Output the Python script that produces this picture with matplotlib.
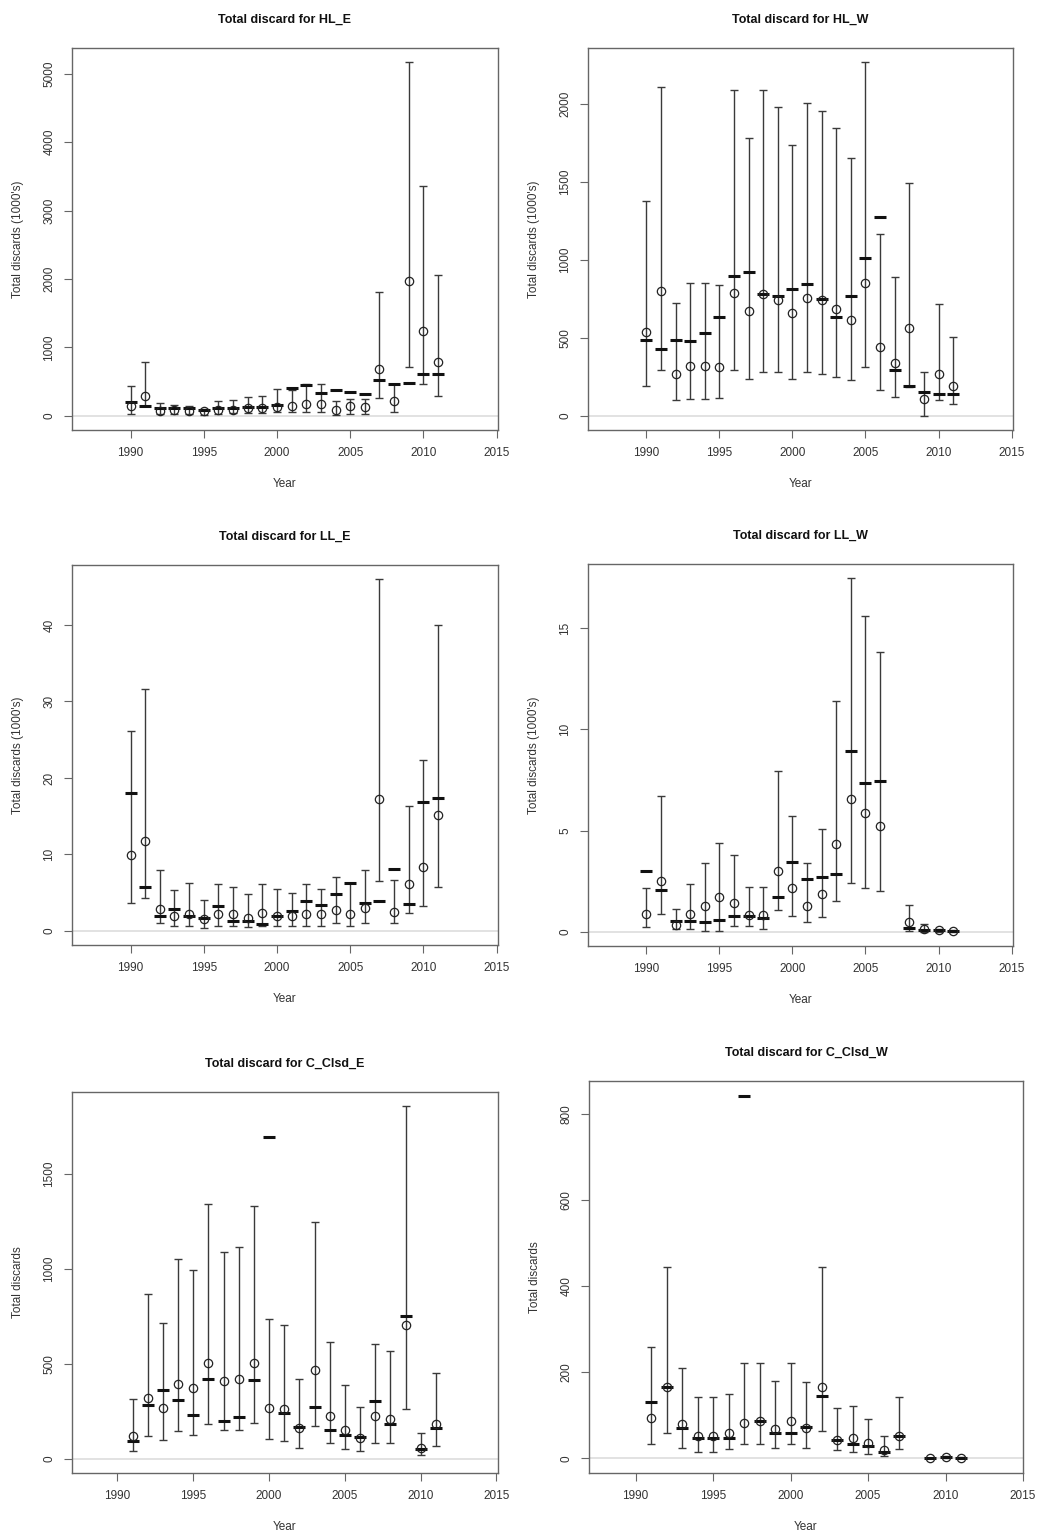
import numpy as np
import matplotlib
matplotlib.use("Agg")
import matplotlib.pyplot as plt

plt.rcParams['font.family'] = ['Liberation Sans', 'DejaVu Sans']

# ---- HL_E ----
hle_years = list(range(1990, 2012))
hle_est = [150, 290, 75, 80, 75, 65, 80, 80, 110, 110, 130, 145, 170, 180, 80, 145, 130, 680, 220, 1975, 1245, 790]
hle_alt = [205, 150, 110, 110, 120, 80, 110, 110, 130, 130, 160, 405, 455, 340, 375, 355, 315, 525, 465, 475, 610, 610]
hle_lo = [30, 150, 25, 25, 25, 15, 25, 35, 35, 35, 60, 50, 50, 60, 15, 25, 25, 255, 50, 710, 465, 285]
hle_hi = [440, 780, 195, 160, 145, 100, 220, 230, 270, 290, 390, 380, 460, 460, 220, 245, 245, 1805, 460, 5170, 3365, 2065]

# ---- HL_W ----
hlw_years = list(range(1990, 2012))
hlw_est = [535, 797, 271, 320, 320, 316, 786, 673, 780, 741, 656, 754, 741, 684, 615, 848, 438, 338, 560, 107, 271, 192]
hlw_alt = [485, 427, 485, 480, 530, 630, 893, 919, 780, 769, 812, 844, 748, 630, 769, 1011, 1271, 293, 192, 150, 139, 143]
hlw_lo = [192, 293, 100, 107, 107, 113, 293, 239, 284, 278, 235, 282, 271, 250, 229, 316, 165, 122, 186, 0, 100, 75]
hlw_hi = [1378, 2109, 722, 848, 848, 840, 2088, 1780, 2088, 1976, 1737, 2006, 1949, 1842, 1652, 2265, 1165, 891, 1489, 278, 716, 506]

# ---- LL_E ----
lle_years = list(range(1990, 2012))
lle_est = [9.9, 11.8, 2.9, 2.0, 2.25, 1.6, 2.25, 2.2, 1.7, 2.3, 1.9, 2.0, 2.25, 2.2, 2.7, 2.25, 3.0, 17.2, 2.5, 6.1, 8.4, 15.2]
lle_alt = [18.0, 5.8, 1.9, 2.9, 1.95, 1.7, 3.2, 1.3, 1.3, 0.85, 2.0, 2.6, 3.9, 3.4, 4.8, 6.3, 3.7, 3.9, 8.1, 3.55, 16.9, 17.4]
lle_lo = [3.6, 4.3, 1.1, 0.7, 0.7, 0.4, 0.7, 0.7, 0.55, 0.6, 0.6, 0.6, 0.7, 0.7, 1.0, 0.6, 1.0, 6.5, 1.0, 2.3, 3.2, 5.8]
lle_hi = [26.1, 31.6, 7.9, 5.3, 6.3, 4.1, 6.2, 5.8, 4.8, 6.2, 5.5, 5.0, 6.2, 5.5, 7.1, 6.3, 7.9, 46.0, 6.6, 16.3, 22.4, 40.0]

# ---- LL_W ----
llw_years = [1990, 1991, 1992, 1993, 1994, 1995, 1996, 1997, 1998, 1999, 2000, 2001, 2002, 2003, 2004, 2005, 2006, 2008, 2009, 2010, 2011]
llw_est = [0.86, 2.52, 0.33, 0.86, 1.27, 1.70, 1.40, 0.82, 0.82, 3.0, 2.17, 1.29, 1.89, 4.32, 6.56, 5.88, 5.22, 0.49, 0.16, 0.08, 0.03]
llw_alt = [3.0, 2.09, 0.53, 0.53, 0.48, 0.58, 0.77, 0.77, 0.66, 1.70, 3.46, 2.59, 2.72, 2.88, 8.95, 7.33, 7.45, 0.2, 0.08, 0.08, 0.03]
llw_lo = [0.25, 0.9, 0.16, 0.16, 0.05, 0.05, 0.3, 0.28, 0.16, 1.1, 0.77, 0.49, 0.71, 1.53, 2.42, 2.17, 2.0, 0.05, 0.01, 0.01, 0.0]
llw_hi = [2.17, 6.7, 1.12, 2.34, 3.41, 4.4, 3.79, 2.22, 2.22, 7.96, 5.72, 3.41, 5.1, 11.4, 17.46, 15.57, 13.79, 1.32, 0.41, 0.16, 0.08]

# ---- C_Clsd_E ----
cce_years = list(range(1991, 2012))
cce_est = [119, 321, 268, 396, 374, 505, 409, 418, 505, 268, 265, 163, 470, 225, 151, 111, 225, 211, 702, 58, 181]
cce_alt = [93, 286, 360, 309, 233, 418, 198, 221, 414, 1693, 242, 168, 272, 154, 128, 116, 304, 181, 751, 53, 163]
cce_lo = [40, 123, 102, 146, 128, 186, 154, 154, 189, 105, 93, 58, 175, 84, 53, 40, 84, 81, 263, 18, 67]
cce_hi = [316, 870, 716, 1053, 996, 1342, 1088, 1116, 1330, 737, 702, 418, 1246, 614, 391, 274, 602, 567, 1856, 137, 453]

# ---- C_Clsd_W ----
ccw_years = [1991, 1992, 1993, 1994, 1995, 1996, 1997, 1998, 1999, 2000, 2001, 2002, 2003, 2004, 2005, 2006, 2007, 2009, 2010, 2011]
ccw_est = [95, 167, 81, 52, 52, 60, 83, 86, 68, 86, 70, 167, 44, 47, 35, 19, 52, 0.5, 3, 1.5]
ccw_alt = [132, 167, 72, 48, 47, 48, 844, 86, 60, 60, 73, 146, 44, 34, 29, 16, 52, 0.5, 3, 1.5]
ccw_lo = [34, 60, 25, 16, 16, 21, 33, 33, 25, 33, 25, 64, 19, 16, 11, 5, 21, 0, 1, 0.5]
ccw_hi = [260, 445, 210, 143, 143, 151, 223, 223, 181, 223, 177, 445, 118, 122, 91, 52, 142, 2, 6, 3]

W, H = 1038, 1532
fig = plt.figure(figsize=(W / 100, H / 100), dpi=100)


def px_axes(l, t, r, b):
    # pixel box -> figure fraction
    return fig.add_axes([l / W, 1 - b / H, (r - l) / W, (b - t) / H])


panels = [
    ("HL_E", (72, 48, 498, 430), hle_years, hle_est, hle_alt, hle_lo, hle_hi,
     (1986, 2015.1), [0, 1000, 2000, 3000, 4000, 5000], "Total discards (1000's)"),
    ("HL_W", (588, 48, 1013, 430), hlw_years, hlw_est, hlw_alt, hlw_lo, hlw_hi,
     (1986, 2015.1), [0, 500, 1000, 1500, 2000], "Total discards (1000's)"),
    ("LL_E", (72, 565, 498, 945), lle_years, lle_est, lle_alt, lle_lo, lle_hi,
     (1986, 2015.1), [0, 10, 20, 30, 40], "Total discards (1000's)"),
    ("LL_W", (588, 564, 1013, 946), llw_years, llw_est, llw_alt, llw_lo, llw_hi,
     (1986, 2015.1), [0, 5, 10, 15], "Total discards (1000's)"),
    ("C_Clsd_E", (72, 1092, 498, 1473), cce_years, cce_est, cce_alt, cce_lo, cce_hi,
     (1987, 2015.1), [0, 500, 1000, 1500], "Total discards"),
    ("C_Clsd_W", (589, 1081, 1023, 1473), ccw_years, ccw_est, ccw_alt, ccw_lo, ccw_hi,
     (1987, 2015), [0, 200, 400, 600, 800], "Total discards"),
]

frame_col = '#666666'
text_col = '#333333'

for name, box, yrs, est, alt, lo, hi, xlim, yticks, ylab in panels:
    ax = px_axes(*box)
    yrs = np.array(yrs)
    est = np.array(est)
    lo = np.array(lo)
    hi = np.array(hi)
    # R style 4% padding on the data range
    top = max(np.max(hi), np.max(alt))
    pad = 0.04 * top
    ax.set_ylim(-pad, top + pad)
    ax.set_xlim(*xlim)
    ax.axhline(0, color='#dddddd', lw=1.2, zorder=0)
    ax.errorbar(yrs, est, yerr=[est - lo, hi - est], fmt='none', ecolor='#3a3a3a',
                elinewidth=1.0, capsize=3, capthick=1.0, zorder=2)
    ax.plot(yrs, alt, linestyle='none', marker='_', ms=8, mew=2.2, color='#111111', zorder=3)
    ax.plot(yrs, est, linestyle='none', marker='o', ms=6, mfc='none', mec='#222222',
            mew=0.9, zorder=4)
    ax.set_xticks([1990, 1995, 2000, 2005, 2010, 2015])
    ax.set_yticks(yticks)
    ax.set_yticklabels([str(v) for v in yticks], rotation=90, va='center')
    ax.tick_params(direction='out', length=6, width=0.8, colors=frame_col,
                   labelcolor=text_col, labelsize=8.5, pad=6)
    for s in ax.spines.values():
        s.set_color(frame_col)
        s.set_linewidth(1.0)
    ax.set_title("Total discard for " + name, fontsize=9, fontweight='bold', pad=18, color='#111111')
    ax.set_xlabel("Year", fontsize=8.5, color=text_col, labelpad=14)
    ax.set_ylabel(ylab, fontsize=8.5, color=text_col, labelpad=14)

fig.savefig("out.png", dpi=100, facecolor='white')
